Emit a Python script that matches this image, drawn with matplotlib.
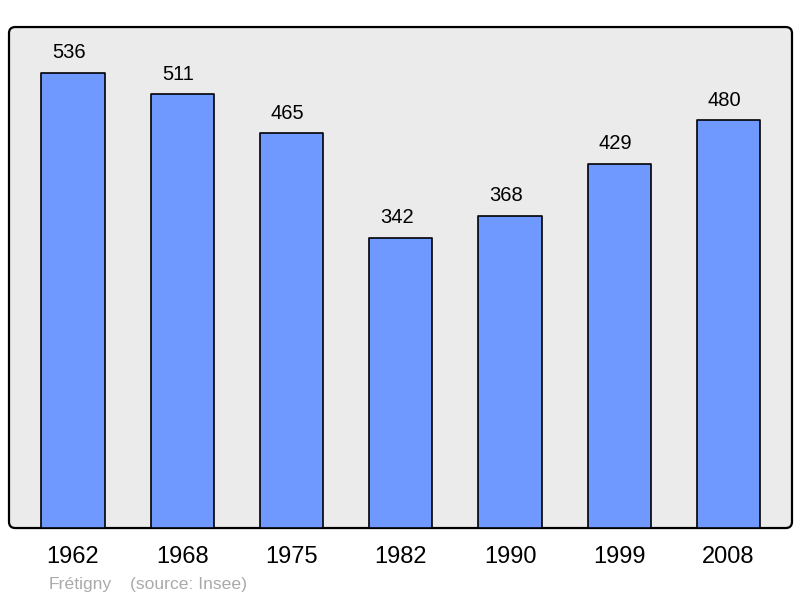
import matplotlib.pyplot as plt
from matplotlib.patches import FancyBboxPatch

plt.rcParams['font.family'] = ['Liberation Sans', 'DejaVu Sans']

years = ['1962', '1968', '1975', '1982', '1990', '1999', '2008']
population = [536, 511, 465, 342, 368, 429, 480]

fig = plt.figure(figsize=(8, 5.98), dpi=100)
ax = fig.add_axes([0.01125, 0.117, 0.97875, 0.8378])
ax.patch.set_visible(False)

# rounded frame like the original
frame = FancyBboxPatch((0, 0), 1, 1, boxstyle='round,pad=0,rounding_size=0.008',
                       transform=ax.transAxes, facecolor='#ebebeb',
                       edgecolor='black', linewidth=1.6, zorder=0,
                       clip_on=False, mutation_aspect=783 / 501)
ax.add_patch(frame)

x = range(len(years))
ax.bar(x, population, width=0.58, color='#7099ff', edgecolor='black',
       linewidth=1.2, joinstyle='round', zorder=2)

for i, v in enumerate(population):
    ax.annotate(str(v), (i, v), xytext=(-3, 7.5), textcoords='offset points',
                ha='center', va='bottom', fontsize=14.5)

ax.set_xlim(-0.585, len(years) - 1 + 0.58)
ax.set_ylim(0, 590)
ax.set_yticks([])
ax.set_xticks(list(x))
ax.set_xticklabels(years, fontsize=17)
ax.tick_params(axis='x', length=0, pad=13)
for s in ax.spines.values():
    s.set_visible(False)

fig.text(49 / 800, 1 - 584 / 598, 'Frétigny', color='#aaaaaa', fontsize=12.6,
         va='center')
fig.text(130 / 800, 1 - 584 / 598, '(source: Insee)', color='#aaaaaa',
         fontsize=12.6, va='center')

fig.savefig('out.png')
